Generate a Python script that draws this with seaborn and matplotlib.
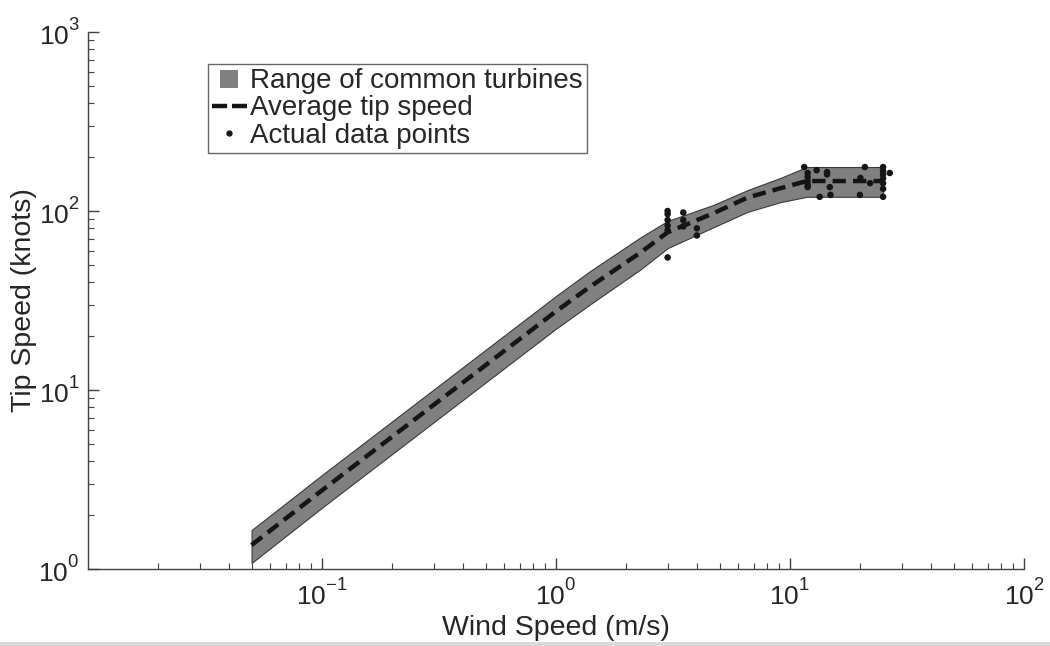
import numpy as np
import pandas as pd
import matplotlib
matplotlib.use("Agg")
import matplotlib.pyplot as plt
import seaborn as sns
from matplotlib.patches import Rectangle
from matplotlib.lines import Line2D

# ---------------- data ----------------
band_wind = [0.05, 0.1, 0.2, 0.5, 1.0, 1.4, 2.3, 3.0, 4.7, 6.6, 9.1, 11.8, 25]
band_mean = [1.36, 2.75, 5.5, 13.75, 27.5, 37.8, 58.6, 76, 97, 119, 134, 147, 147]
band_upper = [1.65, 3.35, 6.7, 16.75, 33.5, 46.2, 71.3, 88, 108, 131, 153, 176, 176]
band_lower = [1.08, 2.2, 4.4, 11, 22, 30.1, 47.2, 62, 81, 99, 112, 120, 120]

pts_wind = [3.0, 3.0, 3.0, 3.0, 3.0, 3.0,
            3.5, 3.5, 3.5,
            4.0, 4.0,
            11.5, 11.9, 11.9, 11.9, 11.9, 11.9,
            13.0, 14.4, 14.4, 14.8, 13.4, 14.9,
            20.9, 19.9, 22.0, 20.0,
            25.0, 25.0, 25.0, 25.0, 25.0, 25.0, 25.0,
            26.7]
pts_tip = [100, 96, 89, 83, 78, 55,
           98, 89, 82,
           80, 73,
           176, 163, 155, 147, 140, 136,
           169, 165, 160, 136, 120, 123,
           176, 123, 143, 153,
           176, 168, 160, 152, 143, 133, 120,
           163]

x_ticks = [0.1, 1, 10, 100]
x_tick_labels = [r"$10^{-1}$", r"$10^{0}$", r"$10^{1}$", r"$10^{2}$"]
y_ticks = [1, 10, 100, 1000]
y_tick_labels = [r"$10^{0}$", r"$10^{1}$", r"$10^{2}$", r"$10^{3}$"]

band_df = pd.DataFrame({"wind": band_wind, "mean": band_mean,
                        "upper": band_upper, "lower": band_lower})
pts_df = pd.DataFrame({"wind": pts_wind, "tip": pts_tip})

# ---------------- style ----------------
sns.set_style("ticks")
plt.rcParams["font.family"] = ["Liberation Sans", "DejaVu Sans"]
plt.rcParams["mathtext.fontset"] = "custom"
plt.rcParams["mathtext.rm"] = "Liberation Sans"
plt.rcParams["mathtext.it"] = "Liberation Sans:italic"
plt.rcParams["mathtext.bf"] = "Liberation Sans:bold"
try:
    import matplotlib._mathtext as _mt
    _mt.FontConstantsBase.sup1 = 0.95
except Exception:
    pass

fig = plt.figure(figsize=(10.5, 6.46), dpi=100)
ax = fig.add_axes([0.0838, 0.1192, 0.8914, 0.8313])

ax.fill_between(band_df["wind"], band_df["lower"], band_df["upper"],
                facecolor="#808080", edgecolor="#3a3a3a", linewidth=0.8, zorder=1)
sns.lineplot(data=band_df, x="wind", y="mean", ax=ax, color="#151515",
             linewidth=3.2, linestyle=(0, (3.0, 1.6)), zorder=2)
sns.scatterplot(data=pts_df, x="wind", y="tip", ax=ax, color="#151515",
                s=22, edgecolor="none", zorder=3)

ax.set_xscale("log")
ax.set_yscale("log")
ax.set_xlim(0.01, 100)
ax.set_ylim(1, 1000)
ax.set_xticks(x_ticks)
ax.set_xticklabels(x_tick_labels)
ax.set_yticks(y_ticks)
ax.set_yticklabels(y_tick_labels)

ax.tick_params(which="major", direction="in", length=8, width=1, labelsize=19,
               color="#404040", pad=6)
ax.tick_params(which="minor", direction="in", length=4.5, width=0.8, color="#404040")
ax.tick_params(axis="x", which="major", pad=7)

for s in ["top", "right"]:
    ax.spines[s].set_visible(False)
for s in ["left", "bottom"]:
    ax.spines[s].set_color("#404040")
    ax.spines[s].set_linewidth(1.0)

ax.set_xlabel("Wind Speed (m/s)", fontsize=20.5, labelpad=4)
ax.set_ylabel("Tip Speed (knots)", fontsize=20.5, labelpad=1)

handles = [Line2D([], [], color="#808080", linestyle="none", marker="s",
                  markersize=13, markeredgewidth=0),
           Line2D([], [], color="#151515", linewidth=3.2, linestyle=(0, (3.4, 1.1))),
           Line2D([], [], color="#151515", linestyle="none", marker=".", markersize=7)]
labels = ["Range of common turbines", "Average tip speed", "Actual data points"]
leg = ax.legend(handles, labels, loc="upper left", bbox_to_anchor=(0.128, 0.94),
                borderaxespad=0, fontsize=20, frameon=True, fancybox=False,
                edgecolor="#404040", handlelength=1.25, handletextpad=0.12,
                borderpad=0.15, labelspacing=0.04)
leg.get_frame().set_linewidth(1.0)

# screenshot bottom strip
fig.add_artist(Rectangle((0, 0), 1, 4 / 646, transform=fig.transFigure,
                         facecolor="#d9d9d9", edgecolor="none"))

fig.savefig("out.png", dpi=100)
